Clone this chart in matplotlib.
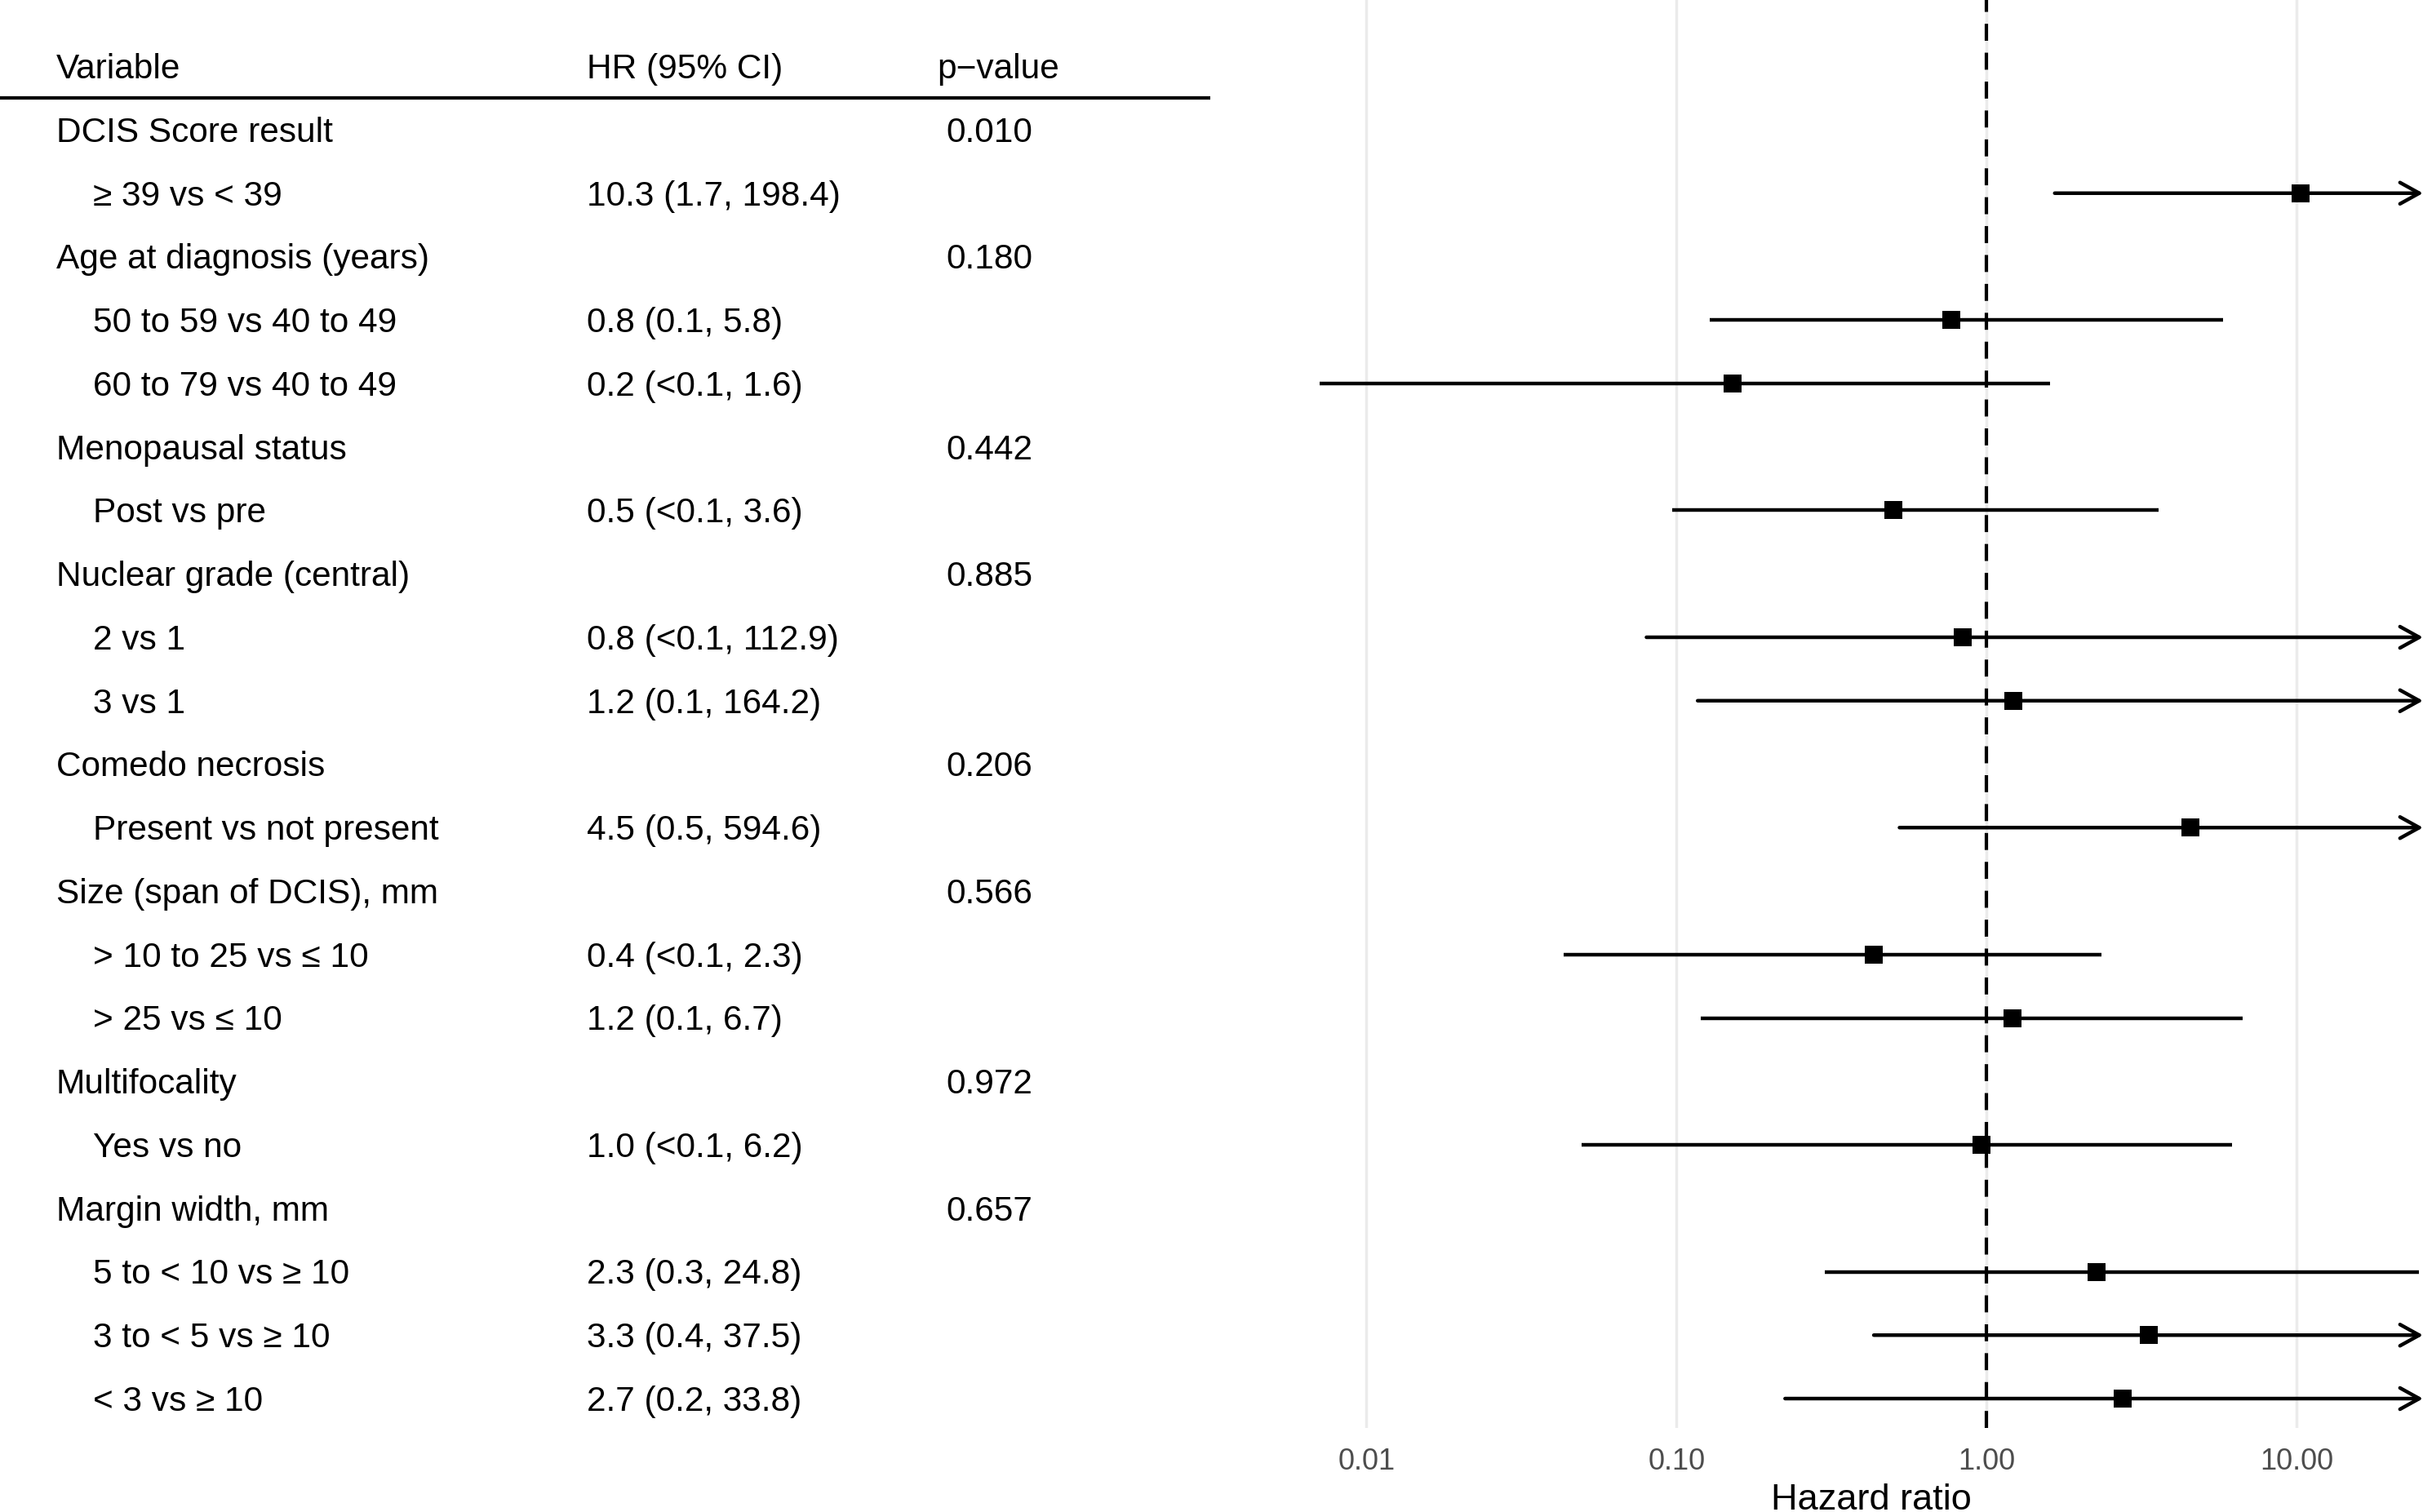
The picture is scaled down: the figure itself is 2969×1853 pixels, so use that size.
import numpy as np
import matplotlib
matplotlib.use("Agg")
import matplotlib.pyplot as plt
from matplotlib.ticker import NullLocator

plt.rcParams['font.family'] = ['Liberation Sans', 'DejaVu Sans']

# table rows (one per line of the left-hand table)
variables = ["DCIS Score result", "\u2265 39 vs < 39",
             "Age at diagnosis (years)", "50 to 59 vs 40 to 49", "60 to 79 vs 40 to 49",
             "Menopausal status", "Post vs pre",
             "Nuclear grade (central)", "2 vs 1", "3 vs 1",
             "Comedo necrosis", "Present vs not present",
             "Size (span of DCIS), mm", "> 10 to 25 vs \u2264 10", "> 25 vs \u2264 10",
             "Multifocality", "Yes vs no",
             "Margin width, mm", "5 to < 10 vs \u2265 10", "3 to < 5 vs \u2265 10", "< 3 vs \u2265 10"]
is_sub = [0, 1, 0, 1, 1, 0, 1, 0, 1, 1, 0, 1, 0, 1, 1, 0, 1, 0, 1, 1, 1]
hr_text = ["", "10.3 (1.7, 198.4)", "", "0.8 (0.1, 5.8)", "0.2 (<0.1, 1.6)",
           "", "0.5 (<0.1, 3.6)", "", "0.8 (<0.1, 112.9)", "1.2 (0.1, 164.2)",
           "", "4.5 (0.5, 594.6)", "", "0.4 (<0.1, 2.3)", "1.2 (0.1, 6.7)",
           "", "1.0 (<0.1, 6.2)", "", "2.3 (0.3, 24.8)", "3.3 (0.4, 37.5)", "2.7 (0.2, 33.8)"]
p_text = ["0.010", "", "0.180", "", "", "0.442", "", "0.885", "", "",
          "0.206", "", "0.566", "", "", "0.972", "", "0.657", "", "", ""]

# hazard ratios and 95% CI for the comparison rows
hr = np.array([10.3, 0.77, 0.152, 0.50, 0.84, 1.22, 4.55, 0.432, 1.21, 0.962, 2.27, 3.33, 2.75])
ci_lo = np.array([1.66, 0.128, 0.00706, 0.097, 0.080, 0.117, 0.524, 0.0432, 0.12, 0.0494, 0.301, 0.433, 0.224])
ci_hi = np.array([198.4, 5.8, 1.6, 3.6, 112.9, 164.2, 594.6, 2.35, 6.7, 6.2, 24.8, 37.5, 33.8])
x_max = 25.6

rows = np.arange(len(variables))
sub_rows = rows[np.array(is_sub) == 1]

W, H = 2969, 1853
fig = plt.figure(figsize=(W / 100, H / 100), dpi=100)

## table part
row0, drow = 159, 77.75   # pixel centre of first row, row height
top_row = -row0 / drow
ax_t = fig.add_axes([0, 0, 1, 1])
ax_t.set_xlim(0, W)
ax_t.set_ylim((H - row0) / drow, top_row)
ax_t.axis('off')

fs = 30.5
off = 0.19
x_var, x_sub, x_hr, x_p = 69, 114, 719, 1159
ax_t.text(x_var, -1 + off, "Variable", fontsize=fs, va='baseline')
ax_t.text(x_hr, -1 + off, "HR (95% CI)", fontsize=fs, va='baseline')
ax_t.text(1148, -1 + off, "p\u2212value", fontsize=fs, va='baseline')
ax_t.plot([0, 1483], [-0.5, -0.5], color='black', lw=3.0, solid_capstyle='butt')
for i in rows:
    x = x_sub if is_sub[i] else x_var
    ax_t.text(x, i + off, variables[i], fontsize=fs, va='baseline')
    ax_t.text(x_hr, i + off, hr_text[i], fontsize=fs, va='baseline')
    ax_t.text(x_p, i + off, p_text[i], fontsize=fs, va='baseline')

## forest plot part
x_min = ci_lo.min()
left = 1617 / W
bottom_px = 1750
ax = fig.add_axes([left, (H - bottom_px) / H, 1 - left, bottom_px / H])
ax.set_xscale('log')
ax.set_xlim(x_min, x_max)
ax.set_ylim((bottom_px - row0) / drow, top_row)
for s in ax.spines.values():
    s.set_visible(False)
ax.set_yticks([])
ax.set_xticks([0.01, 0.1, 1, 10])
ax.set_xticklabels(["0.01", "0.10", "1.00", "10.00"])
ax.xaxis.set_minor_locator(NullLocator())
ax.tick_params(axis='x', length=0, pad=17, labelsize=26, labelcolor='#4D4D4D')
ax.grid(axis='x', which='major', color='#EBEBEB', lw=2.5)
ax.set_axisbelow(True)
ax.set_xlabel("Hazard ratio", fontsize=32.5, labelpad=7)

ax.axvline(1, color='black', lw=3, linestyle=(0, (5, 3.5)), zorder=2)

lw = 3.2
for k, r in enumerate(sub_rows):
    if ci_hi[k] > x_max:
        ax.annotate('', xy=(x_max, r), xytext=(ci_lo[k], r),
                    arrowprops=dict(arrowstyle='->,head_length=17,head_width=9.4',
                                    mutation_scale=1, lw=lw, color='black',
                                    shrinkA=0, shrinkB=0),
                    annotation_clip=False, zorder=3)
    else:
        ax.plot([ci_lo[k], ci_hi[k]], [r, r], color='black', lw=lw,
                solid_capstyle='butt', zorder=3)
ax.plot(hr, sub_rows, 's', ms=15.8, color='black', mew=0, zorder=4)

fig.savefig("out.png", dpi=100)
